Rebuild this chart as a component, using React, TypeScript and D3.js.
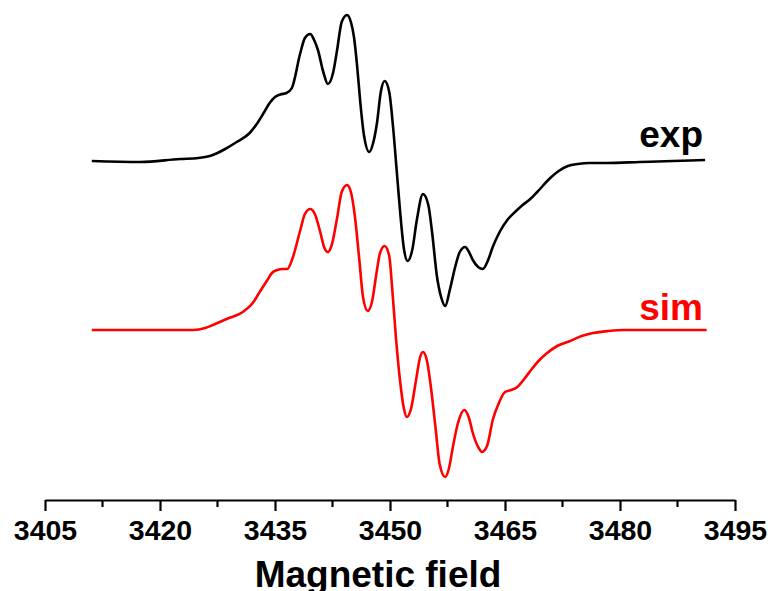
import React, { useRef, useEffect } from "react";
import { select, scaleLinear, axisBottom, line, curveMonotoneX, range } from "d3";

// field (G) readings for the experimental trace
const expField = [
  3411.1, 3417.4, 3422.6, 3425.0, 3426.5, 3427.5, 3428.5, 3430.0, 3431.7, 3432.8,
  3433.6, 3434.3, 3435.0, 3435.7, 3436.5, 3437.2, 3438.3, 3438.9, 3439.6, 3440.1,
  3440.6, 3441.3, 3441.9, 3442.6, 3443.1, 3443.7, 3444.4, 3444.9, 3445.3, 3445.7,
  3446.1, 3446.6, 3447.3, 3447.8, 3448.3, 3448.8, 3449.3, 3449.9, 3450.4, 3450.9,
  3451.3, 3451.8, 3452.3, 3452.9, 3453.5, 3454.3, 3455.0, 3455.5, 3456.1, 3456.7,
  3457.2, 3457.8, 3458.5, 3459.1, 3459.8, 3460.3, 3460.8, 3461.5, 3462.1, 3462.8,
  3463.4, 3464.3, 3465.3, 3466.3, 3467.3, 3468.3, 3469.2, 3470.9, 3472.0, 3473.2,
  3474.5, 3476.0, 3478.3, 3482.6, 3486.9, 3491.1,
];
const expSignal = [
  -1, -2, 1, 2, 4, 7, 11, 18, 27, 38,
  48, 57, 63, 65.5, 67, 72, 107, 122, 126, 120,
  110, 88, 76, 88, 110, 138, 145, 138, 123, 95,
  60, 25, 8, 17, 37, 68, 79, 68, 33, -13,
  -50, -88, -101, -90, -60, -34, -45, -73, -115, -138,
  -146, -130, -107, -92, -87, -92, -100, -107, -109, -100,
  -87, -72, -60, -52, -45, -39, -32, -18, -11, -6,
  -4, -3, -3, -2, -1, 0,
];

// simulated trace
const simField = [
  3411.1, 3420.4, 3424.3, 3425.9, 3426.9, 3428.7, 3430.8, 3432.1, 3433.0, 3434.0,
  3434.6, 3435.3, 3436.0, 3436.6, 3437.3, 3438.3, 3438.9, 3439.6, 3440.2, 3440.9,
  3441.4, 3441.9, 3442.4, 3443.1, 3443.7, 3444.4, 3444.9, 3445.4, 3446.0, 3446.5,
  3447.1, 3447.7, 3448.2, 3448.7, 3449.3, 3449.9, 3450.3, 3450.8, 3451.3, 3451.8,
  3452.2, 3452.7, 3453.4, 3453.9, 3454.3, 3454.8, 3455.3, 3455.9, 3456.5, 3457.2,
  3457.7, 3458.2, 3458.9, 3459.7, 3460.3, 3460.8, 3461.5, 3462.0, 3462.7, 3463.4,
  3464.2, 3465.0, 3465.8, 3466.6, 3467.5, 3468.5, 3469.5, 3470.5, 3471.8, 3473.5,
  3475.0, 3476.5, 3478.5, 3480.5, 3491.3,
];
const simSignal = [
  0, 0, 0, 2, 5, 11, 18, 27, 38, 50,
  57, 60, 61, 61, 72, 100, 116, 121, 116, 98,
  83, 78, 85, 112, 138, 145, 138, 115, 70, 32,
  19, 30, 55, 77, 84, 74, 40, -10, -50, -78,
  -87, -80, -50, -28, -22, -30, -55, -95, -135, -147,
  -138, -117, -92, -80, -88, -103, -117, -122, -115, -90,
  -73, -62, -60, -57, -49, -39, -30, -23, -16, -11,
  -6, -3, -1, 0, 0,
];

const majorTicks = [3405, 3420, 3435, 3450, 3465, 3480, 3495];
const expOffset = 340;
const simOffset = 170;

const W = 771;
const H = 591;
const font = "'Liberation Sans', Arial, Helvetica, sans-serif";

function App() {
  const svgRef = useRef<SVGSVGElement>(null);

  useEffect(() => {
    const svg = select(svgRef.current);
    const x = scaleLinear().domain([3405, 3495]).range([45, 735]);
    const y = scaleLinear().domain([0, 500]).range([500, 0]);

    const minor = range(0, majorTicks.length - 1).map(
      (i) => (majorTicks[i] + majorTicks[i + 1]) / 2
    );

    const xAxis = axisBottom(x)
      .tickValues(majorTicks)
      .tickSize(11)
      .tickSizeOuter(0)
      .tickPadding(9)
      .tickFormat((d) => String(d));

    const gx = svg.select<SVGGElement>(".x-axis").attr("transform", "translate(0,500)");
    gx.call(xAxis);
    gx.select(".domain").attr("stroke", "#000").attr("stroke-width", 2.2);
    gx.selectAll(".tick line").attr("stroke", "#000").attr("stroke-width", 2.2);
    gx.selectAll(".tick text")
      .attr("font-family", font)
      .attr("font-weight", "bold")
      .attr("font-size", 28.5)
      .attr("fill", "#000");

    svg
      .select(".minor")
      .selectAll("line")
      .data(minor)
      .join("line")
      .attr("x1", (d) => x(d))
      .attr("x2", (d) => x(d))
      .attr("y1", 500)
      .attr("y2", 507)
      .attr("stroke", "#000")
      .attr("stroke-width", 2.2);

    const expLine = line<number>()
      .x((d, i) => x(expField[i]))
      .y((d) => y(d + expOffset))
      .curve(curveMonotoneX);
    const simLine = line<number>()
      .x((d, i) => x(simField[i]))
      .y((d) => y(d + simOffset))
      .curve(curveMonotoneX);

    svg
      .select(".traces")
      .selectAll("path")
      .data([
        { d: expLine(expSignal), c: "#000" },
        { d: simLine(simSignal), c: "#ff0000" },
      ])
      .join("path")
      .attr("d", (v) => v.d)
      .attr("fill", "none")
      .attr("stroke", (v) => v.c)
      .attr("stroke-width", 2.6)
      .attr("stroke-linejoin", "round");
  }, []);

  return (
    <svg
      ref={svgRef}
      width={W}
      height={H}
      style={{ position: "absolute", left: 0, top: 0, background: "#fff" }}
    >
      <g className="traces" />
      <g className="minor" />
      <g className="x-axis" />
      <text x={703} y={147} textAnchor="end" fontFamily={font} fontWeight="bold" fontSize={37} fill="#000">
        exp
      </text>
      <text x={703} y={320} textAnchor="end" fontFamily={font} fontWeight="bold" fontSize={37} fill="#ff0000">
        sim
      </text>
      <text x={378} y={587} textAnchor="middle" fontFamily={font} fontWeight="bold" fontSize={37} fill="#000">
        Magnetic field
      </text>
    </svg>
  );
}

export default App;
